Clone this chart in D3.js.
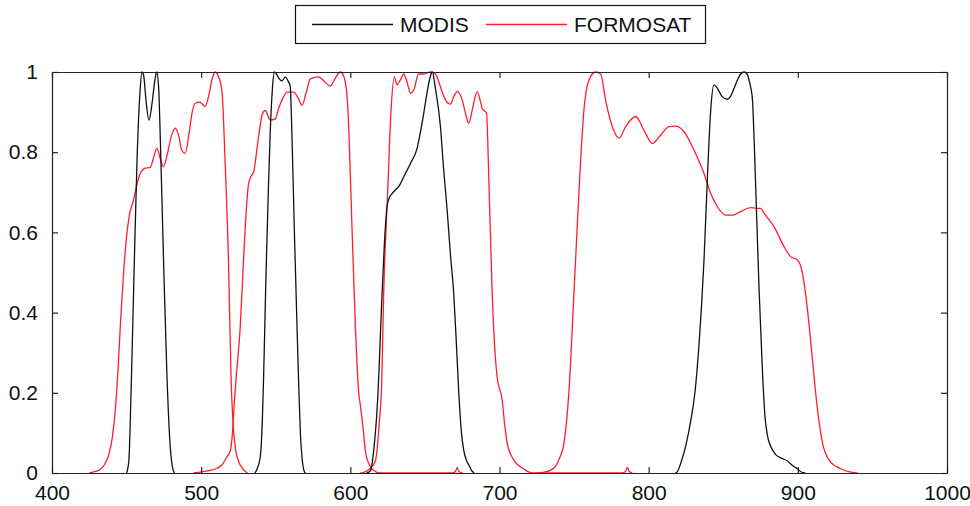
<!DOCTYPE html>
<html>
<head>
<meta charset="utf-8">
<script src="https://cdn.jsdelivr.net/npm/d3@7/dist/d3.min.js"></script>
<style>
  html, body { margin: 0; padding: 0; background: #fff; }
  svg { display: block; font-family: "Liberation Sans", Arial, sans-serif; }
</style>
</head>
<body>
<svg id="chart" width="970" height="506"></svg>
<script>
// ---- data (wavelength nm, relative response) ----
const xTicks = [400, 500, 600, 700, 800, 900, 1000];
const yTicks = [0, 0.2, 0.4, 0.6, 0.8, 1];
const yTickLabels = ["0", "0.2", "0.4", "0.6", "0.8", "1"];
const seriesNames = ["MODIS", "FORMOSAT"];

const modisBlue = [[450,0],[451.5,0.03],[453,0.2],[455,0.5],[457,0.78],[459,0.95],[460.3,1],[461.5,0.99],[463,0.93],[465,0.88],[467,0.92],[469,0.98],[470.2,1],[471.5,0.96],[473,0.78],[475,0.5],[477,0.25],[479,0.08],[480.5,0.02],[482,0]];
const modisGreen = [[536,0],[537.5,0.01],[539.6,0.04],[541,0.13],[541.8,0.23],[543.5,0.5],[545,0.7],[546.3,0.85],[547.8,0.96],[549,1],[550.5,0.995],[552,0.985],[554.2,0.978],[556.4,0.987],[558.6,0.975],[559.7,0.965],[560.8,0.85],[562.5,0.6],[564,0.4],[565.3,0.23],[566.5,0.1],[567.6,0.04],[569,0.005],[570,0]];
const modisRed = [[611,0],[613.4,0.005],[615.7,0.057],[618.3,0.182],[621.3,0.448],[623.5,0.614],[624.6,0.664],[626,0.685],[628,0.697],[630,0.705],[632.4,0.714],[636,0.74],[640.3,0.772],[644.8,0.81],[647,0.85],[649.2,0.897],[651.5,0.95],[653.7,0.99],[655,1],[657,0.96],[660.4,0.864],[662.5,0.76],[664.9,0.656],[667,0.55],[669.3,0.448],[671,0.33],[672.7,0.2],[674.5,0.1],[676,0.057],[678,0.03],[679.4,0.02],[681,0.008],[683,0]];
const modisNir = [[818,0],[819.5,0.005],[822,0.03],[825,0.07],[828.2,0.13],[831,0.2],[833.8,0.323],[835.5,0.42],[837.1,0.531],[839.4,0.739],[841.6,0.905],[843.8,0.968],[846,0.96],[849,0.94],[852.8,0.932],[855,0.94],[857.3,0.96],[859.5,0.98],[861.7,0.995],[864,1],[866,0.995],[867.3,0.98],[868.5,0.96],[869.6,0.93],[870.7,0.83],[871.8,0.709],[874,0.459],[876.3,0.252],[878,0.14],[879.6,0.094],[882,0.065],[885.2,0.046],[889,0.037],[893,0.03],[896,0.02],[899.8,0.01],[902,0.003],[905,0]];

const formBlue = [[425,0],[428,0.003],[432,0.008],[435,0.02],[438,0.045],[440.5,0.09],[442.5,0.16],[444.3,0.26],[446,0.38],[448,0.5],[450,0.59],[452,0.645],[454.6,0.68],[457,0.72],[459.1,0.747],[462.4,0.76],[465.8,0.762],[468,0.785],[470.3,0.81],[472.5,0.785],[474.7,0.764],[477,0.79],[480,0.84],[482.6,0.86],[485,0.84],[487,0.805],[489.3,0.797],[492,0.85],[494,0.9],[496,0.922],[499,0.925],[502.7,0.914],[505,0.94],[507.5,0.985],[509.4,1.0],[511.5,0.99],[514,0.95],[516,0.78],[518.3,0.53],[520.1,0.23],[521.7,0.107],[523,0.06],[525,0.03],[528,0.01],[531,0]];
const formGreen = [[495,0],[500.5,0.003],[505,0.006],[509.4,0.01],[513.9,0.02],[517.2,0.04],[519.5,0.055],[521,0.1],[522.3,0.18],[523.3,0.23],[526.2,0.365],[528.4,0.531],[530.7,0.68],[531.8,0.722],[533.5,0.74],[535.1,0.75],[538.5,0.839],[541,0.895],[543,0.904],[546.3,0.88],[549.7,0.883],[552,0.91],[555.2,0.938],[557.5,0.95],[562,0.95],[565,0.935],[567.6,0.917],[570.5,0.95],[573.2,0.983],[578.7,0.988],[583,0.975],[586.6,0.965],[590,0.985],[593.3,1.0],[595.5,0.99],[596.6,0.975],[598,0.93],[598.9,0.864],[601.1,0.614],[603.4,0.365],[605.6,0.2],[606.7,0.17],[608.9,0.099],[610,0.057],[612.3,0.024],[613.4,0.016],[617,0.003],[620,0],[668,0],[670.5,0.004],[671.6,0.014],[672.7,0.004],[675,0]];
const formRed = [[606.7,0],[610,0.003],[613.4,0.012],[616.8,0.03],[617.9,0.057],[619.5,0.13],[621,0.22],[622.3,0.44],[625,0.697],[627.3,0.905],[629.5,0.988],[631.3,0.968],[633.5,0.98],[635.8,0.995],[638,0.975],[640.3,0.947],[642.5,0.955],[645.8,0.995],[649.2,0.995],[653.7,1.0],[657,0.995],[660.4,0.963],[663.8,0.93],[667.1,0.92],[669.5,0.94],[671.6,0.951],[675,0.93],[677,0.9],[679.4,0.872],[682,0.91],[685,0.951],[687,0.93],[688.4,0.909],[691.3,0.897],[692.8,0.739],[695.1,0.448],[697,0.3],[698.4,0.24],[701.8,0.182],[703.5,0.12],[705.2,0.074],[709.6,0.032],[716.3,0.01],[722,0],[782,0],[784.5,0.004],[785.7,0.014],[787,0.004],[789,0]];
const formNir = [[725,0],[730,0.002],[736.4,0.012],[740,0.035],[743.2,0.074],[746.5,0.2],[749.9,0.448],[752.1,0.614],[754.4,0.781],[756.6,0.905],[760,0.98],[764.4,1.0],[767.8,0.995],[771.1,0.93],[775.6,0.864],[780.1,0.835],[784.6,0.864],[791.3,0.889],[796.8,0.855],[802.5,0.822],[808.1,0.843],[813.6,0.864],[818.1,0.865],[823.7,0.851],[830.4,0.805],[837.1,0.747],[841.6,0.697],[846.1,0.664],[851.7,0.643],[856.2,0.643],[861.7,0.652],[868.5,0.662],[872,0.66],[875.2,0.66],[877,0.65],[880,0.635],[884.1,0.614],[890.8,0.564],[895.3,0.539],[899.8,0.531],[903.1,0.498],[906.5,0.406],[909.8,0.282],[913.2,0.157],[916.6,0.074],[921,0.032],[928.9,0.01],[935.6,0.002],[940,0]];

const modisBands = [modisBlue, modisGreen, modisRed, modisNir];
const formBands = [formBlue, formGreen, formRed, formNir];

// ---- layout ----
const W = 970, H = 506;
const m = { left: 52, right: 23, top: 72, bottom: 33 };
const svg = d3.select("#chart");
const x = d3.scaleLinear().domain([400, 1000]).range([m.left, W - m.right]);
const y = d3.scaleLinear().domain([0, 1]).range([H - m.bottom, m.top]);
const RED = "#ff1e2d";

const line = d3.line().x(d => x(d[0])).y(d => y(d[1])).curve(d3.curveMonotoneX);

svg.append("clipPath").attr("id", "clip").append("rect")
  .attr("x", m.left).attr("y", m.top - 1)
  .attr("width", x(1000) - m.left).attr("height", y(0) - m.top + 1);

const plot = svg.append("g").attr("clip-path", "url(#clip)");
plot.selectAll("path.form").data(formBands).join("path")
  .attr("class", "form").attr("d", line)
  .attr("fill", "none").attr("stroke", RED).attr("stroke-width", 1.3);
plot.selectAll("path.modis").data(modisBands).join("path")
  .attr("class", "modis").attr("d", line)
  .attr("fill", "none").attr("stroke", "#111").attr("stroke-width", 1.3);

// ---- axes (inside ticks, box) ----
const tickLen = 6;
const fontSize = 21;
const axB = d3.axisBottom(x).tickValues(xTicks).tickSizeInner(-tickLen).tickSizeOuter(0).tickPadding(12).tickFormat(d3.format("d"));
const axT = d3.axisTop(x).tickValues(xTicks).tickSizeInner(-tickLen).tickSizeOuter(0).tickFormat("");
const axL = d3.axisLeft(y).tickValues(yTicks).tickSizeInner(-tickLen).tickSizeOuter(0).tickPadding(14).tickFormat((d, i) => yTickLabels[i]);
const axR = d3.axisRight(y).tickValues(yTicks).tickSizeInner(-tickLen).tickSizeOuter(0).tickFormat("");

function styleAxis(g) {
  g.select(".domain").attr("stroke", "#222").attr("stroke-width", 1.2);
  g.selectAll(".tick line").attr("stroke", "#222").attr("stroke-width", 1.2);
  g.selectAll(".tick text").attr("fill", "#111").style("font-size", fontSize + "px")
    .style("font-family", '"Liberation Sans", Arial, sans-serif');
}
svg.append("g").attr("transform", `translate(0,${y(0)})`).call(axB).call(styleAxis);
svg.append("g").attr("transform", `translate(0,${y(1)})`).call(axT).call(styleAxis);
svg.append("g").attr("transform", `translate(${x(400)},0)`).call(axL).call(styleAxis);
svg.append("g").attr("transform", `translate(${x(1000)},0)`).call(axR).call(styleAxis);

// ---- legend ----
const leg = svg.append("g");
leg.append("rect").attr("x", 295.5).attr("y", 5.5).attr("width", 410).attr("height", 38)
  .attr("fill", "#fff").attr("stroke", "#111").attr("stroke-width", 1.2);
const legItems = [
  { name: seriesNames[0], color: "#111", x0: 312 },
  { name: seriesNames[1], color: RED, x0: 486 }
];
legItems.forEach(it => {
  leg.append("line").attr("x1", it.x0).attr("x2", it.x0 + 81).attr("y1", 24.5).attr("y2", 24.5)
    .attr("stroke", it.color).attr("stroke-width", 1.3);
  leg.append("text").attr("x", it.x0 + 88).attr("y", 32).text(it.name)
    .attr("fill", "#111").style("font-size", fontSize + "px");
});
</script>
</body>
</html>
